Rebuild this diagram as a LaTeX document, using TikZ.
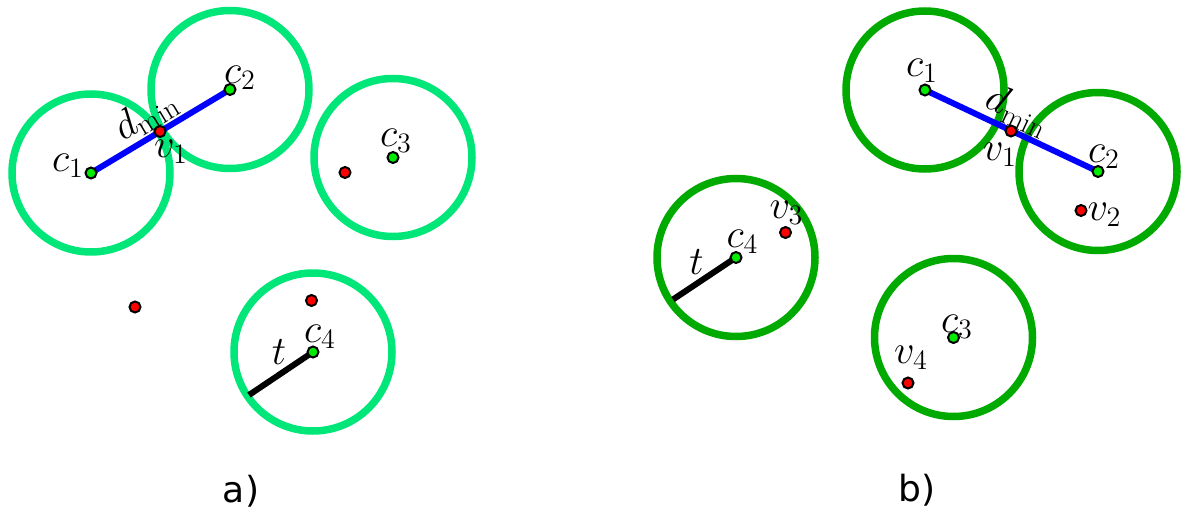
\documentclass[tikz,border=0pt]{standalone}
\usepackage{fontspec}
\DeclareMathSizes{20}{20}{15}{12}
\newfontfamily\labfont{DejaVu Sans}
\definecolor{lgreen}{RGB}{0,230,120}
\definecolor{dgreen}{RGB}{0,170,0}
\definecolor{dotgreen}{RGB}{0,235,0}
\definecolor{dotred}{RGB}{255,0,0}
\definecolor{segblue}{RGB}{0,0,255}
\tikzset{
  ringa/.style={draw=lgreen, line width=7.5pt},
  ringb/.style={draw=dgreen, line width=7.5pt},
  gdot/.style={circle, draw=black, line width=2pt, fill=dotgreen, inner sep=0pt, minimum size=11pt},
  rdot/.style={circle, draw=black, line width=2pt, fill=dotred, inner sep=0pt, minimum size=11pt},
  dseg/.style={draw=segblue, line width=6pt},
  tseg/.style={draw=black, line width=6pt},
  mlab/.style={inner sep=0pt, scale=1.95, font=\fontsize{20}{24}\selectfont},
  plab/.style={inner sep=0pt, scale=1.8, font=\fontsize{20}{24}\selectfont\labfont}
}
\begin{document}
\begin{tikzpicture}[x=1pt, y=-1pt]
\useasboundingbox (0,0) rectangle (1181,511);
% ---------- panel a ----------
\coordinate (ac1) at (91,173);
\coordinate (ac2) at (230,89.5);
\coordinate (ac3) at (393,157.5);
\coordinate (ac4) at (313,352);
\coordinate (av1) at (160,131.5);
\coordinate (at) at (249,395);
\draw[ringa] (ac1) circle (79);
\draw[ringa] (ac2) circle (79);
\draw[ringa] (ac3) circle (79);
\draw[ringa] (ac4) circle (79);
\draw[dseg] (ac1) -- (ac2);
\draw[tseg] (ac4) -- (at);
\node[gdot] (a1) at (ac1) {};
\node[gdot] (a2) at (ac2) {};
\node[gdot] (a3) at (ac3) {};
\node[gdot] (a4) at (ac4) {};
\node[rdot] (av) at (av1) {};
\node[rdot] (ar3) at (345,172.5) {};
\node[rdot] (ar0) at (135,307) {};
\node[rdot] (ar4) at (311.5,300.5) {};
\node[mlab] (la1) at (68,166) {$c_1$};
\node[mlab] (la2) at (240,78) {$c_2$};
\node[mlab] (la3) at (396,141) {$c_3$};
\node[mlab] (la4) at (320,337) {$c_4$};
\node[mlab, rotate=31] (lad) at (146,115) {$d_{\mathrm{min}}$};
\node[mlab] (lav) at (171,152) {$v_1$};
\node[mlab] (lat) at (279,352) {$t$};
\node[plab] (pa) at (241,491) {a)};
% ---------- panel b ----------
\coordinate (bc1) at (925,90);
\coordinate (bc2) at (1098,171.5);
\coordinate (bc3) at (953.5,337.5);
\coordinate (bc4) at (736,257.5);
\coordinate (bv1) at (1011,131);
\coordinate (bt) at (673,299.5);
\draw[ringb] (bc1) circle (79);
\draw[ringb] (bc2) circle (79);
\draw[ringb] (bc3) circle (79);
\draw[ringb] (bc4) circle (79);
\draw[dseg] (bc1) -- (bc2);
\draw[tseg] (bc4) -- (bt);
\node[gdot] (b1) at (bc1) {};
\node[gdot] (b2) at (bc2) {};
\node[gdot] (b3) at (bc3) {};
\node[gdot] (b4) at (bc4) {};
\node[rdot] (bv) at (bv1) {};
\node[rdot] (br2) at (1081,210.5) {};
\node[rdot] (br3) at (785.5,232.5) {};
\node[rdot] (br4) at (908,383) {};
\node[mlab] (lb1) at (922,71) {$c_1$};
\node[mlab] (lb2) at (1104,157) {$c_2$};
\node[mlab] (lb3) at (957,327) {$c_3$};
\node[mlab] (lb4) at (742.5,241.5) {$c_4$};
\node[mlab, rotate=-25] (lbd) at (1018,111) {$d_{\mathrm{min}}$};
\node[mlab] (lbv1) at (1000,155) {$v_1$};
\node[mlab] (lbv2) at (1104.5,215) {$v_2$};
\node[mlab] (lbv3) at (786.5,213) {$v_3$};
\node[mlab] (lbv4) at (911,358) {$v_4$};
\node[mlab] (lbt) at (696.5,262) {$t$};
\node[plab] (pb) at (917,490) {b)};
\end{tikzpicture}
\end{document}
